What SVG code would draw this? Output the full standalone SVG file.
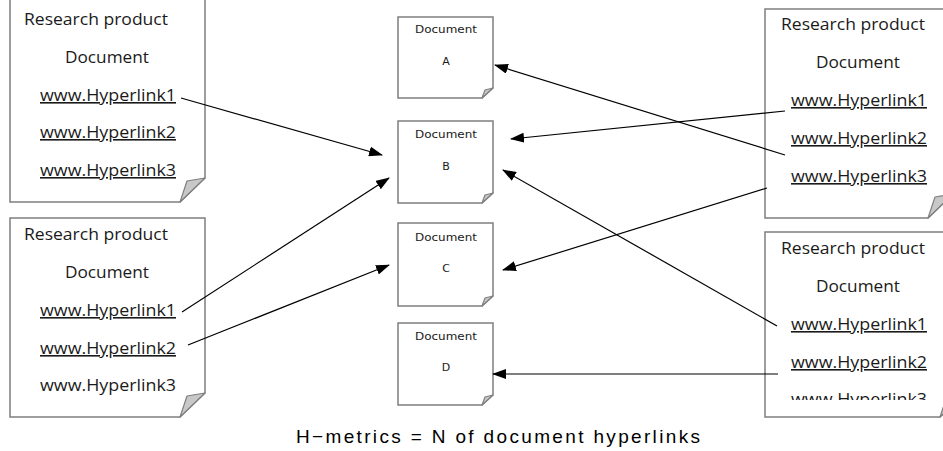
<svg xmlns="http://www.w3.org/2000/svg" width="943" height="451" viewBox="0 0 943 451">
<style>
.doc{fill:#fff;stroke:#7f7f7f;stroke-width:1.5}
.flap{fill:#c8c8c8;stroke:#7f7f7f;stroke-width:1.2;stroke-linejoin:round}
.t{font-family:"Open Sans","Noto Sans",sans-serif;font-size:16px;fill:#1a1a1a}
.c{text-anchor:middle}
.u{text-decoration:underline}
.s{font-family:"DejaVu Sans","Noto Sans",sans-serif;font-size:11px;fill:#1a1a1a;text-anchor:middle}
.cap{font-family:"Liberation Sans",Arial,sans-serif;font-size:19px;fill:#000;text-anchor:middle}
.ln{stroke:#000;stroke-width:1.2;fill:none;marker-end:url(#ah)}
</style>
<defs>
<marker id="ah" markerUnits="userSpaceOnUse" markerWidth="14" markerHeight="10" refX="13" refY="5" orient="auto">
<path d="M0,0 L14,5 L0,10 Z" fill="#000"/>
</marker>
<clipPath id="clipR2"><rect x="760" y="225" width="200" height="175"/></clipPath>
</defs>
<rect width="943" height="451" fill="#fff"/>

<g id="left-doc-1">
<path class="doc" d="M10,-5 L10,202 L180,202 L205,178 L205,-5"/>
<path class="flap" d="M180,202 L187,181 L205,178 Z"/>
<text class="t" x="24" y="25" textLength="144" lengthAdjust="spacingAndGlyphs">Research product</text>
<text class="t c" x="107" y="63" textLength="84" lengthAdjust="spacingAndGlyphs">Document</text>
<text class="t u" x="40" y="101" textLength="136" lengthAdjust="spacingAndGlyphs">www.Hyperlink1</text>
<text class="t u" x="40" y="138" textLength="136" lengthAdjust="spacingAndGlyphs">www.Hyperlink2</text>
<text class="t u" x="40" y="176" textLength="136" lengthAdjust="spacingAndGlyphs">www.Hyperlink3</text>
</g>

<g id="left-doc-2">
<path class="doc" d="M10,218 L10,417 L180,417 L205,393 L205,218 Z"/>
<path class="flap" d="M180,417 L187,396 L205,393 Z"/>
<text class="t" x="24" y="240" textLength="144" lengthAdjust="spacingAndGlyphs">Research product</text>
<text class="t c" x="107" y="278" textLength="84" lengthAdjust="spacingAndGlyphs">Document</text>
<text class="t u" x="40" y="316" textLength="136" lengthAdjust="spacingAndGlyphs">www.Hyperlink1</text>
<text class="t u" x="40" y="354" textLength="136" lengthAdjust="spacingAndGlyphs">www.Hyperlink2</text>
<text class="t" x="40" y="391" textLength="136" lengthAdjust="spacingAndGlyphs">www.Hyperlink3</text>
</g>

<g id="doc-a">
<path class="doc" d="M398,17 L398,98 L482,98 L493,88 L493,17 Z"/>
<path class="flap" d="M482,98 L485,90 L493,88 Z"/>
<text class="s" x="446" y="33" textLength="62" lengthAdjust="spacingAndGlyphs">Document</text>
<text class="s" x="446" y="65">A</text>
</g>

<g id="doc-b">
<path class="doc" d="M398,121 L398,203 L482,203 L493,193 L493,121 Z"/>
<path class="flap" d="M482,203 L485,195 L493,193 Z"/>
<text class="s" x="446" y="138" textLength="62" lengthAdjust="spacingAndGlyphs">Document</text>
<text class="s" x="446" y="170">B</text>
</g>

<g id="doc-c">
<path class="doc" d="M398,223 L398,306 L482,306 L493,296 L493,223 Z"/>
<path class="flap" d="M482,306 L485,298 L493,296 Z"/>
<text class="s" x="446" y="241" textLength="62" lengthAdjust="spacingAndGlyphs">Document</text>
<text class="s" x="446" y="272">C</text>
</g>

<g id="doc-d">
<path class="doc" d="M398,323 L398,405 L482,405 L493,395 L493,323 Z"/>
<path class="flap" d="M482,405 L485,397 L493,395 Z"/>
<text class="s" x="446" y="340" textLength="62" lengthAdjust="spacingAndGlyphs">Document</text>
<text class="s" x="446" y="371">D</text>
</g>

<g id="right-doc-1">
<path class="doc" d="M765,9 L765,218 L928,218 L953,194 L953,9 Z"/>
<path class="flap" d="M928,218 L935,197 L953,194 Z"/>
<text class="t" x="781" y="30" textLength="144" lengthAdjust="spacingAndGlyphs">Research product</text>
<text class="t c" x="858" y="68" textLength="84" lengthAdjust="spacingAndGlyphs">Document</text>
<text class="t u" x="791" y="106" textLength="136" lengthAdjust="spacingAndGlyphs">www.Hyperlink1</text>
<text class="t u" x="791" y="144" textLength="136" lengthAdjust="spacingAndGlyphs">www.Hyperlink2</text>
<text class="t u" x="791" y="182" textLength="136" lengthAdjust="spacingAndGlyphs">www.Hyperlink3</text>
</g>

<g id="right-doc-2">
<path class="doc" d="M765,232 L765,417 L940,417 L965,393 L965,232 Z"/>
<path class="flap" d="M940,417 L947,396 L965,393 Z"/>
<text class="t" x="781" y="254" textLength="144" lengthAdjust="spacingAndGlyphs">Research product</text>
<text class="t c" x="858" y="292" textLength="84" lengthAdjust="spacingAndGlyphs">Document</text>
<text class="t u" x="791" y="330" textLength="136" lengthAdjust="spacingAndGlyphs">www.Hyperlink1</text>
<text class="t u" x="791" y="368" textLength="136" lengthAdjust="spacingAndGlyphs">www.Hyperlink2</text>
<text class="t u" x="791" y="405" textLength="136" lengthAdjust="spacingAndGlyphs" clip-path="url(#clipR2)">www.Hyperlink3</text>
</g>

<g id="connectors">
<line class="ln" x1="181" y1="98" x2="382" y2="155"/>
<line class="ln" x1="182" y1="312" x2="389" y2="178"/>
<line class="ln" x1="188" y1="345" x2="389" y2="265"/>
<line class="ln" x1="785" y1="111" x2="511" y2="139"/>
<line class="ln" x1="785" y1="155" x2="495" y2="65"/>
<line class="ln" x1="767" y1="188" x2="503" y2="270"/>
<line class="ln" x1="777" y1="326" x2="503" y2="170"/>
<line class="ln" x1="778" y1="374" x2="493" y2="374"/>
</g>

<text class="cap" x="498" y="443" textLength="404" lengthAdjust="spacing">H−metrics = N of document hyperlinks</text>
</svg>
